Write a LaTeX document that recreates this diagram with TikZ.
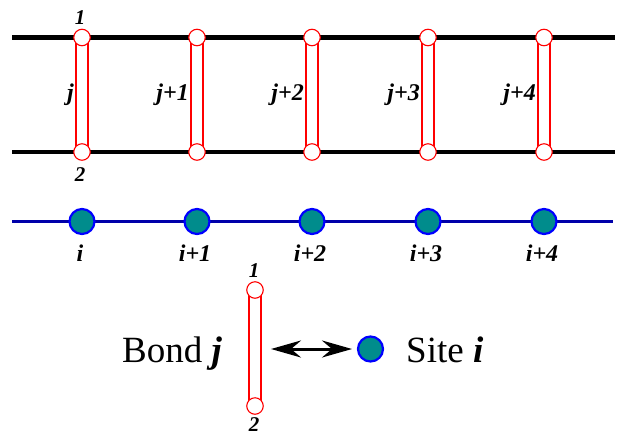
\documentclass[tikz,border=0pt]{standalone}
\usepackage{fontspec}
\setmainfont{Liberation Serif}
\usetikzlibrary{arrows.meta}
\definecolor{teal1}{RGB}{0,140,140}
\definecolor{sitebd}{RGB}{0,0,255}
\definecolor{chain}{RGB}{0,0,170}
\definecolor{bondred}{RGB}{255,0,0}
\tikzset{
  rail/.style={line width=4.3pt, black},
  chainline/.style={line width=3pt, chain},
  bondrect/.style={draw=bondred, line width=1.1pt, fill=white},
  endpt/.style={circle, draw=bondred, fill=white, line width=1.1pt, minimum size=16.5pt, inner sep=0pt},
  sitept/.style={circle, draw=sitebd, fill=teal1, line width=2.2pt, minimum size=25pt, inner sep=0pt},
  idx/.style={font=\fontsize{24}{24}\selectfont\bfseries\itshape, inner sep=0pt},
  endlab/.style={font=\fontsize{21}{21}\selectfont\bfseries\itshape, inner sep=0pt},
  bigtxt/.style={font=\fontsize{37}{37}\selectfont, inner sep=0pt},
  dblarrow/.style={line width=3pt, {Stealth[length=30pt,width=17pt,inset=10pt]}-{Stealth[length=30pt,width=17pt,inset=10pt]}},
}
\begin{document}
\begin{tikzpicture}[x=1pt,y=-1pt]
\useasboundingbox (0,0) rectangle (617,437);
% rails
\coordinate (rtl) at (12,37.5);
\coordinate (rtr) at (615,37.5);
\coordinate (rbl) at (12,152);
\coordinate (rbr) at (615,152);
\draw[rail] (rtl) -- (rtr);
\draw[rail] (rbl) -- (rbr);
% bonds
\foreach \x/\n/\lab in {82/0/j, 197/1/j+1, 312/2/j+2, 428/3/j+3, 544/4/j+4}{
  \draw[bondrect] (\x-6,37.5) rectangle (\x+6,152);
  \node[endpt] (t\n) at (\x,37.5) {};
  \node[endpt] (b\n) at (\x,152) {};
  \node[idx, anchor=east] (jl\n) at (\x-8,95) {\lab};
}
\node[endlab] (one) at (80,17.5) {1};
\node[endlab] (two) at (80,175) {2};
% chain
\coordinate (cl) at (12,221.5);
\coordinate (cr) at (613,221.5);
\draw[chainline] (cl) -- (cr);
\foreach \x/\n/\lab in {82/0/i, 197/1/i+1, 312/2/i+2, 428/3/i+3, 544/4/i+4}{
  \node[sitept] (s\n) at (\x,221.5) {};
  \node[idx] (il\n) at (\x-2,253.5) {\lab};
}
% legend
\draw[bondrect] (249,290) rectangle (261,406);
\node[endpt] (lt) at (255,290) {};
\node[endpt] (lb) at (255,406) {};
\node[endlab] (lone) at (254,271) {1};
\node[endlab] (ltwo) at (254,425) {2};
\node[bigtxt, anchor=base] (bond) at (172,362) {Bond \textbf{\textit{j}}};
\node[sitept] (ls) at (370.5,349) {};
\node[bigtxt, anchor=base west] (site) at (406,362) {Site \textbf{\textit{i}}};
\coordinate (al) at (271,349);
\coordinate (ar) at (352,349);
\draw[dblarrow] (al) -- (ar);
\end{tikzpicture}
\end{document}
